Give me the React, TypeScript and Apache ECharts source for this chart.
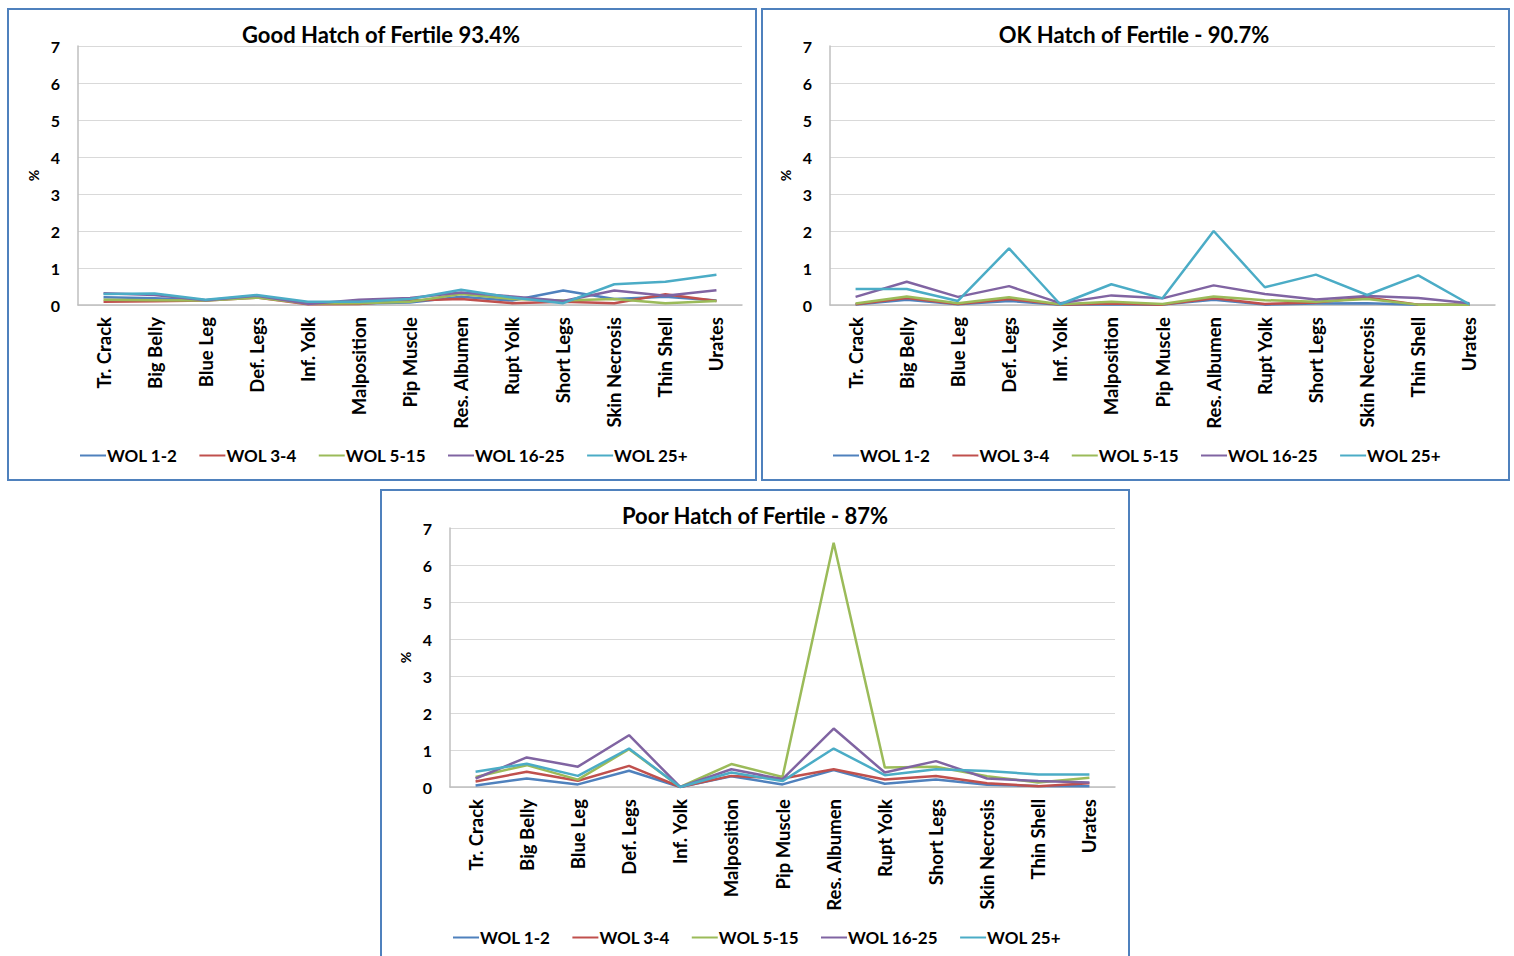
import React, { useEffect, useRef } from "react";
import * as echarts from "echarts";

const categories = ["Tr. Crack", "Big Belly", "Blue Leg", "Def. Legs", "Inf. Yolk", "Malposition", "Pip Muscle", "Res. Albumen", "Rupt Yolk", "Short Legs", "Skin Necrosis", "Thin Shell", "Urates"];
const seriesNames = ["WOL 1-2", "WOL 3-4", "WOL 5-15", "WOL 16-25", "WOL 25+"];
const colors = ["#4F81BD", "#C0504D", "#9BBB59", "#8064A2", "#4BACC6"];
const titles = ["Good Hatch of Fertile 93.4%", "OK Hatch of Fertile - 90.7%", "Poor Hatch of Fertile - 87%"];
const yTicks = [0, 1, 2, 3, 4, 5, 6, 7];

// Good hatch
const good_wol12 = [0.21, 0.18, 0.13, 0.22, 0.05, 0.04, 0.07, 0.22, 0.12, 0.39, 0.16, 0.22, 0.12];
const good_wol34 = [0.09, 0.1, 0.12, 0.2, 0.02, 0.03, 0.12, 0.16, 0.05, 0.09, 0.05, 0.29, 0.11];
const good_wol515 = [0.14, 0.13, 0.12, 0.2, 0.04, 0.05, 0.09, 0.3, 0.16, 0.12, 0.16, 0.05, 0.11];
const good_wol1625 = [0.32, 0.27, 0.13, 0.25, 0.03, 0.14, 0.19, 0.34, 0.23, 0.11, 0.39, 0.25, 0.4];
const good_wol25 = [0.3, 0.31, 0.14, 0.27, 0.09, 0.09, 0.16, 0.41, 0.2, 0.05, 0.56, 0.63, 0.82];

// OK hatch
const ok_wol12 = [0.01, 0.14, 0.02, 0.11, 0.01, 0.02, 0.01, 0.14, 0.01, 0.04, 0.05, 0.01, 0.01];
const ok_wol34 = [0.02, 0.19, 0.03, 0.16, 0.01, 0.04, 0.01, 0.18, 0.03, 0.07, 0.2, 0.01, 0.01];
const ok_wol515 = [0.04, 0.23, 0.05, 0.21, 0.02, 0.09, 0.03, 0.23, 0.13, 0.09, 0.16, 0.01, 0.01];
const ok_wol1625 = [0.22, 0.63, 0.22, 0.51, 0.05, 0.26, 0.18, 0.53, 0.3, 0.15, 0.24, 0.19, 0.05];
const ok_wol25 = [0.43, 0.43, 0.11, 1.53, 0.02, 0.56, 0.18, 2.0, 0.48, 0.82, 0.27, 0.8, 0.02];

// Poor hatch
const poor_wol12 = [0.04, 0.23, 0.07, 0.44, 0, 0.29, 0.07, 0.46, 0.09, 0.2, 0.06, 0.03, 0.02];
const poor_wol34 = [0.15, 0.41, 0.17, 0.57, 0, 0.3, 0.23, 0.48, 0.2, 0.3, 0.1, 0.02, 0.1];
const poor_wol515 = [0.27, 0.59, 0.2, 1.02, 0, 0.62, 0.27, 6.6, 0.53, 0.55, 0.29, 0.12, 0.25];
const poor_wol1625 = [0.23, 0.8, 0.55, 1.4, 0, 0.48, 0.21, 1.58, 0.39, 0.7, 0.23, 0.16, 0.12];
const poor_wol25 = [0.41, 0.63, 0.3, 1.04, 0, 0.39, 0.16, 1.04, 0.32, 0.48, 0.43, 0.34, 0.34];

const chartData = [
  [good_wol12, good_wol34, good_wol515, good_wol1625, good_wol25],
  [ok_wol12, ok_wol34, ok_wol515, ok_wol1625, ok_wol25],
  [poor_wol12, poor_wol34, poor_wol515, poor_wol1625, poor_wol25],
];

const FONT = "Lato, 'Open Sans', sans-serif";

// panel layout (pixels)
const panels = [
  { box: { x: 8, y: 9, w: 748, h: 471 }, grid: { left: 78, top: 46, width: 664, height: 259 }, titleX: 381, titleY: 23, legendY: 447, legendX: 80 },
  { box: { x: 762, y: 9, w: 747, h: 471 }, grid: { left: 830, top: 46, width: 665, height: 259 }, titleX: 1134, titleY: 23, legendY: 447, legendX: 833 },
  { box: { x: 381, y: 490, w: 748, h: 480 }, grid: { left: 450, top: 528, width: 665, height: 259 }, titleX: 755, titleY: 504, legendY: 929, legendX: 453 },
];

export default function App() {
  const ref = useRef<HTMLDivElement>(null);
  useEffect(() => {
    if (!ref.current) return;
    const chart = echarts.init(ref.current, undefined, { renderer: "svg" });
    const option: any = {
      animation: false,
      backgroundColor: "#ffffff",
      textStyle: { fontFamily: FONT },
      title: panels.map((p, i) => ({
        text: titles[i],
        left: p.titleX,
        top: p.titleY,
        padding: 0,
        textAlign: "center",
        textStyle: { fontFamily: FONT, fontWeight: "bold", fontSize: 22, color: "#000" },
      })),
      legend: panels.map((p) => ({
        data: seriesNames,
        left: p.legendX,
        width: 700,
        top: p.legendY,
        padding: 0,
        itemWidth: 26,
        itemHeight: 14,
        itemGap: 22,
        icon: "path://M0,6 L26,6 L26,8 L0,8 Z",
        textStyle: { fontFamily: FONT, fontWeight: "bold", fontSize: 17, color: "#000", padding: [0, 0, 0, -4] },
      })),
      grid: panels.map((p) => ({
        left: p.grid.left,
        top: p.grid.top,
        width: p.grid.width,
        height: p.grid.height,
        containLabel: false,
      })),
      xAxis: panels.map((_, i) => ({
        type: "category",
        gridIndex: i,
        data: categories,
        boundaryGap: true,
        axisLine: { lineStyle: { color: "#bfbfbf", width: 1.5 } },
        axisTick: { show: false },
        axisLabel: {
          rotate: 90,
          interval: 0,
          margin: 12,
          fontFamily: FONT,
          fontWeight: "bold",
          fontSize: 18.5,
          color: "#000",
        },
      })),
      yAxis: panels.map((_, i) => ({
        type: "value",
        gridIndex: i,
        min: 0,
        max: 7,
        interval: 1,
        name: "%",
        nameLocation: "middle",
        nameGap: 38,
        nameRotate: 90,
        nameTextStyle: { fontFamily: FONT, fontWeight: "bold", fontSize: 14, color: "#000" },
        axisLine: { show: true, lineStyle: { color: "#bfbfbf", width: 1.5 } },
        axisTick: { show: false },
        splitLine: { lineStyle: { color: "#d9d9d9", width: 1.2 } },
        axisLabel: {
          margin: 18,
          fontFamily: FONT,
          fontWeight: "bold",
          fontSize: 16,
          color: "#000",
          formatter: (v: number) => (yTicks.includes(v) ? String(v) : ""),
        },
      })),
      series: chartData.flatMap((set, gi) =>
        set.map((vals, si) => ({
          type: "line",
          name: seriesNames[si],
          xAxisIndex: gi,
          yAxisIndex: gi,
          data: vals,
          symbol: "none",
          lineStyle: { color: colors[si], width: 2.5 },
          itemStyle: { color: colors[si] },
          z: 2 + si,
        }))
      ),
      graphic: panels.map((p) => ({
        type: "rect",
        shape: { x: p.box.x, y: p.box.y, width: p.box.w, height: p.box.h },
        style: { fill: "none", stroke: "#4F81BD", lineWidth: 2 },
        silent: true,
        z: 100,
      })),
    };
    chart.setOption(option);
    return () => chart.dispose();
  }, []);
  return (
    <div style={{ position: "fixed", left: 0, top: 0, width: 1514, height: 956, background: "#fff" }}>
      <div ref={ref} style={{ width: 1514, height: 956 }} />
    </div>
  );
}
